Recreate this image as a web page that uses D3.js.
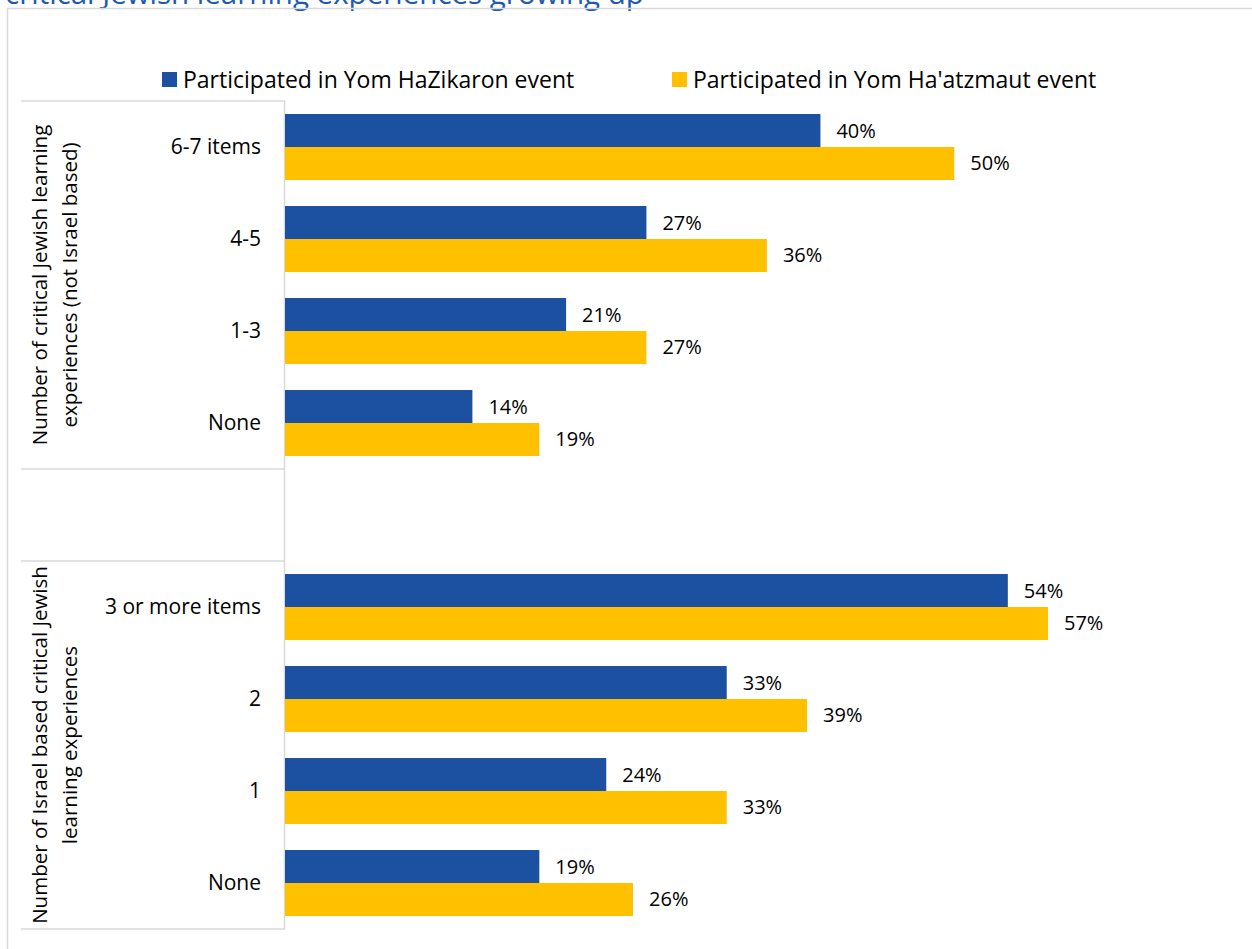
<!DOCTYPE html>
<html>
<head>
<meta charset="utf-8">
<script src="https://cdn.jsdelivr.net/npm/d3@7"></script>
<style>
  html, body { margin: 0; padding: 0; background: #fff; }
  svg { display: block; }
</style>
</head>
<body>
<svg id="chart" width="1252" height="949"></svg>
<script>
// Category groups (top-to-bottom) and their axis titles
const groupTitles = [
  ["Number of critical Jewish learning", "experiences (not Israel based)"],
  ["Number of Israel based critical Jewish", "learning experiences"]
];
const group1Categories = ["6-7 items", "4-5", "1-3", "None"];
const group2Categories = ["3 or more items", "2", "1", "None"];

// Series values (%)
const seriesNames = ["Participated in Yom HaZikaron event", "Participated in Yom Ha'atzmaut event"];
const yomHaZikaron1 = [40, 27, 21, 14];
const yomHaatzmaut1 = [50, 36, 27, 19];
const yomHaZikaron2 = [54, 33, 24, 19];
const yomHaatzmaut2 = [57, 39, 33, 26];

const colors = ["#1C51A1", "#FFC000"];
const font = "'Open Sans', 'Noto Sans', sans-serif";

// Build rows: group 1, an empty spacer slot, then group 2
const rows = [];
group1Categories.forEach((c, i) => rows.push({ key: "a" + i, label: c, values: [yomHaZikaron1[i], yomHaatzmaut1[i]] }));
rows.push({ key: "gap", label: "", values: null });
group2Categories.forEach((c, i) => rows.push({ key: "b" + i, label: c, values: [yomHaZikaron2[i], yomHaatzmaut2[i]] }));

const svg = d3.select("#chart");

// Chart title (partly above the page edge) and chart frame
svg.append("text")
  .attr("x", 5).attr("y", 4)
  .attr("font-family", font).attr("font-size", 29.5)
  .attr("fill", "#2159AE")
  .text("critical Jewish learning experiences growing up");

svg.append("rect")
  .attr("x", 7.5).attr("y", 8.5).attr("width", 1260).attr("height", 960)
  .attr("fill", "none").attr("stroke", "#D9D9D9").attr("stroke-width", 1.5);

const plotLeft = 285, plotRight = 1222, plotTop = 101, plotBottom = 929;

const x = d3.scaleLinear().domain([0, 70]).range([plotLeft, plotRight]);
const y = d3.scaleBand().domain(rows.map(r => r.key)).range([plotTop, plotBottom])
  .paddingInner(0.283).paddingOuter(0.1415);
const ySub = d3.scaleBand().domain([0, 1]).range([0, y.bandwidth()]);

// Category axis lines: vertical axis and group dividers
const axisG = svg.append("g").attr("stroke", "#D9D9D9").attr("stroke-width", 1.5);
axisG.append("line")
  .attr("x1", plotLeft - 0.5).attr("x2", plotLeft - 0.5)
  .attr("y1", plotTop).attr("y2", plotBottom);
const step = y.step();
const dividers = [plotTop, plotTop + step * 4, plotTop + step * 5, plotBottom];
dividers.forEach(d => {
  axisG.append("line").attr("x1", 21).attr("x2", plotLeft).attr("y1", d).attr("y2", d);
});

// Bars
const rowG = svg.selectAll("g.row").data(rows.filter(r => r.values)).enter()
  .append("g").attr("class", "row")
  .attr("transform", d => `translate(0,${y(d.key)})`);

rowG.selectAll("rect").data(d => d.values).enter().append("rect")
  .attr("x", x(0))
  .attr("y", (v, i) => ySub(i))
  .attr("width", v => x(v) - x(0))
  .attr("height", ySub.bandwidth())
  .attr("fill", (v, i) => colors[i]);

// Data labels
rowG.selectAll("text.val").data(d => d.values).enter().append("text")
  .attr("class", "val")
  .attr("x", v => x(v) + 16)
  .attr("y", (v, i) => ySub(i) + ySub.bandwidth() / 2)
  .attr("dy", "0.35em")
  .attr("font-family", font).attr("font-size", 20)
  .attr("fill", "#000")
  .text(v => v + "%");

// Category labels
svg.selectAll("text.cat").data(rows.filter(r => r.values)).enter().append("text")
  .attr("class", "cat")
  .attr("x", 261)
  .attr("y", d => y(d.key) + y.bandwidth() / 2)
  .attr("dy", "0.35em")
  .attr("text-anchor", "end")
  .attr("font-family", font).attr("font-size", 21)
  .attr("fill", "#000")
  .text(d => d.label);

// Group titles, rotated
const groupCenters = [(dividers[0] + dividers[1]) / 2, (dividers[2] + dividers[3]) / 2];
groupTitles.forEach((lines, gi) => {
  const t = svg.append("text")
    .attr("transform", `translate(55,${groupCenters[gi]}) rotate(-90)`)
    .attr("text-anchor", "middle")
    .attr("font-family", font).attr("font-size", 20.5)
    .attr("fill", "#000");
  lines.forEach((ln, li) => {
    t.append("tspan").attr("x", 0).attr("y", li === 0 ? -8 : 22).text(ln);
  });
});

// Legend
const legendItems = [{ x: 162, name: seriesNames[0], color: colors[0] }, { x: 672, name: seriesNames[1], color: colors[1] }];
const lg = svg.selectAll("g.legend").data(legendItems).enter().append("g")
  .attr("class", "legend").attr("transform", d => `translate(${d.x},72)`);
lg.append("rect").attr("width", 15).attr("height", 15).attr("fill", d => d.color);
lg.append("text").attr("x", 21).attr("y", 8).attr("dy", "0.35em")
  .attr("font-family", font).attr("font-size", 23).attr("fill", "#000")
  .text(d => d.name);
</script>
</body>
</html>
